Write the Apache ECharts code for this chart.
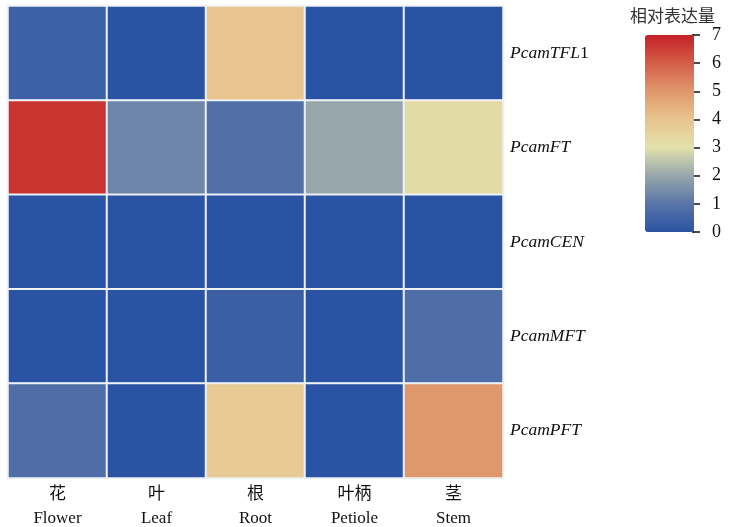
<!DOCTYPE html>
<html>
<head>
<meta charset="utf-8">
<script src="https://cdn.jsdelivr.net/npm/echarts@6/dist/echarts.min.js"></script>
<style>html,body{margin:0;padding:0;background:#fff}#c{width:733px;height:527px}</style>
</head>
<body>
<div id="c"></div>
<script>
var tissuesCN = ['花', '叶', '根', '叶柄', '茎'];
var tissuesEN = ['Flower', 'Leaf', 'Root', 'Petiole', 'Stem'];
var geneBase = ['PcamTFL', 'PcamFT', 'PcamCEN', 'PcamMFT', 'PcamPFT'];
var geneSuffix = ['1', '', '', '', ''];
// relative expression, rows = genes, columns = tissues
var valTFL1 = [0.4, 0.0, 4.0, 0.0, 0.0];
var valFT   = [6.7, 1.35, 0.85, 2.0, 3.2];
var valCEN  = [0.0, 0.0, 0.0, 0.0, 0.0];
var valMFT  = [0.0, 0.0, 0.35, 0.0, 0.8];
var valPFT  = [0.8, 0.0, 3.8, 0.0, 5.0];
var legendTicks = [0, 1, 2, 3, 4, 5, 6, 7];
var legendTitle = '相对表达量';

var rows = [valTFL1, valFT, valCEN, valMFT, valPFT];
var data = [];
rows.forEach(function (r, gi) {
  r.forEach(function (v, ti) { data.push([ti, gi, v]); });
});
var xCats = tissuesCN.map(function (c, i) { return c + '\n' + tissuesEN[i]; });
var yCats = geneBase.map(function (g, i) { return g + '|' + geneSuffix[i]; });

var serif = "'Liberation Serif', 'Noto Sans CJK SC', serif";
var chart = echarts.init(document.getElementById('c'));
chart.setOption({
  backgroundColor: '#fff',
  animation: false,
  title: {
    text: legendTitle, left: 630, top: 7, padding: 0,
    textStyle: { fontFamily: "'Noto Sans CJK SC', sans-serif", fontSize: 17, fontWeight: 'normal', color: '#333' }
  },
  grid: [
    { left: 8, top: 6, right: 230, bottom: 49, outerBoundsMode: 'none', containLabel: false },
    { left: 693, top: 35, width: 1, height: 197, outerBoundsMode: 'none', containLabel: false }
  ],
  xAxis: [
    {
      type: 'category', data: xCats, gridIndex: 0,
      axisLine: { show: false }, axisTick: { show: false }, splitLine: { show: false },
      axisLabel: {
        margin: 5, color: '#111', fontFamily: serif, fontSize: 17, lineHeight: 24
      }
    },
    { type: 'value', gridIndex: 1, show: false, min: 0, max: 1 }
  ],
  yAxis: [
    {
      type: 'category', data: yCats, gridIndex: 0, inverse: true, position: 'right',
      axisLine: { show: false }, axisTick: { show: false }, splitLine: { show: false },
      axisLabel: {
        margin: 7, align: 'left',
        formatter: function (v) { var p = v.split('|'); return '{i|' + p[0] + '}' + (p[1] ? '{n|' + p[1] + '}' : ''); },
        rich: {
          i: { fontFamily: serif, fontStyle: 'italic', fontSize: 17.5, color: '#111' },
          n: { fontFamily: serif, fontSize: 17.5, color: '#111' }
        }
      }
    },
    {
      type: 'value', gridIndex: 1, position: 'right', min: 0, max: 7, interval: 1,
      axisLine: { show: true, lineStyle: { color: '#111', width: 2 } },
      axisTick: { show: true, length: 7, lineStyle: { color: '#111', width: 1.5 } },
      splitLine: { show: false },
      axisLabel: { margin: 18, color: '#111', fontFamily: serif, fontSize: 18 }
    }
  ],
  visualMap: {
    type: 'continuous', min: 0, max: 7, seriesIndex: 0,
    calculable: false, hoverLink: false, padding: 0,
    left: 645, top: 35, itemWidth: 49, itemHeight: 197,
    inRange: { color: ['#2a53a3', '#5875a8', '#97a6ab', '#e2e1ac', '#e8c48e', '#df986c', '#d45e48', '#c42026'] }
  },
  series: [{
    type: 'heatmap', xAxisIndex: 0, yAxisIndex: 0, data: data,
    itemStyle: { borderColor: '#eef2f6', borderWidth: 2 },
    emphasis: { disabled: true }
  }]
});
</script>
</body>
</html>
